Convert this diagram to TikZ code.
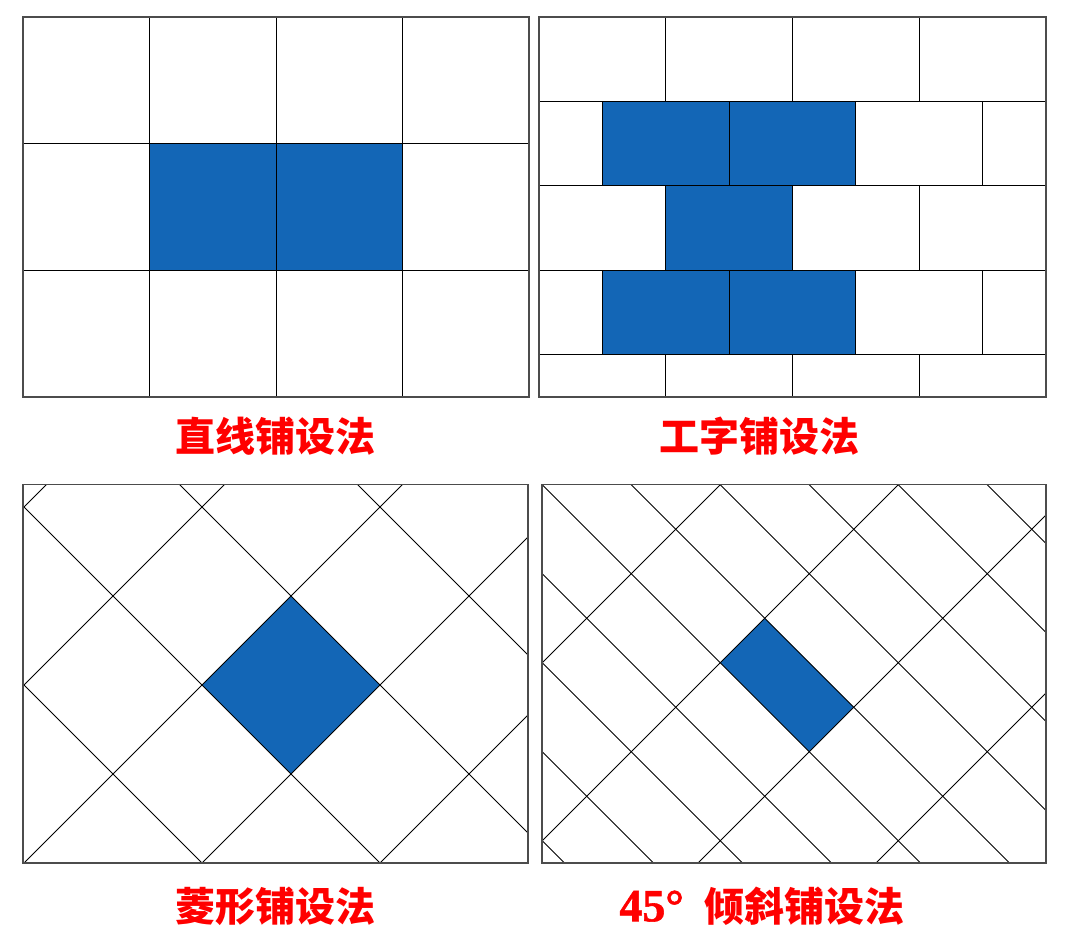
\documentclass[tikz,border=0pt]{standalone}
\usepackage{fontspec}
\newfontfamily\cjk{Noto Sans CJK SC}
\newfontfamily\serifb{Liberation Serif Bold}[FakeBold=1.2]
\definecolor{tileblue}{RGB}{19,102,182}
\begin{document}
\begin{tikzpicture}[x=1pt,y=-1pt,
  tile/.style={draw=black, line width=0.9pt},
  frame/.style={draw=black!70, line width=1.3pt},
  bluefill/.style={fill=tileblue},
  lbl/.style={text=red, font=\cjk\bfseries\fontsize{40}{40}\selectfont, inner sep=0pt}]
\useasboundingbox (0,0) rectangle (1080,950);
\fill[white] (0,0) rectangle (1080,950);

% ---------- Panel 1: straight ----------
\fill[bluefill] (149.5,143.7) rectangle (402.5,270.3);
\foreach \x in {149.5,276,402.5} \draw[tile] (\x,17) -- (\x,397);
\foreach \y in {143.7,270.3} \draw[tile] (23,\y) -- (529,\y);
\draw[frame] (23,17) rectangle (529,397);

% ---------- Panel 2: running bond ----------
\fill[bluefill] (602.4,101.3) rectangle (855.9,185.7);
\fill[bluefill] (665.75,185.7) rectangle (792.5,270);
\fill[bluefill] (602.4,270) rectangle (855.9,354.3);
\foreach \y in {101.3,185.7,270,354.3} \draw[tile] (539,\y) -- (1046,\y);
\foreach \x in {665.75,792.5,919.25} {
  \draw[tile] (\x,17) -- (\x,101.3);
  \draw[tile] (\x,185.7) -- (\x,270);
  \draw[tile] (\x,354.3) -- (\x,397);
}
\foreach \x in {602.4,729.1,855.9,982.6} {
  \draw[tile] (\x,101.3) -- (\x,185.7);
  \draw[tile] (\x,270) -- (\x,354.3);
}
\draw[frame] (539,17) rectangle (1046,397);

% ---------- Panel 3: diamond ----------
\begin{scope}
\clip (23,484.5) rectangle (528,863);
\fill[bluefill] (291,596) -- (380,685) -- (291,774) -- (202,685) -- cycle;
\foreach \u in {531,709,887,1065,1243} \draw[tile] (\u-900,900) -- (\u-450,450);
\foreach \v in {-661,-483,-305,-127} \draw[tile] (450+\v,450) -- (900+\v,900);
\end{scope}
\draw[frame] (23,484.5) rectangle (528,863);

% ---------- Panel 4: 45 degree ----------
\begin{scope}
\clip (542,484.5) rectangle (1046,863);
\fill[bluefill] (720.25,662.75) -- (764.75,618.25) -- (853.75,707.25) -- (809.25,751.75) -- cycle;
\foreach \u in {1205,1383,1561,1739} \draw[tile] (\u-900,900) -- (\u-450,450);
\foreach \v in {-298.5,-209.5,-120.5,-31.5,57.5,146.5,235.5,324.5,413.5,502.5} \draw[tile] (450+\v,450) -- (900+\v,900);
\end{scope}
\draw[frame] (542,484.5) rectangle (1046,863);

% ---------- Labels ----------
\node[lbl] (l1) at (275,436) {直线铺设法};
\node[lbl] (l2) at (759,436) {工字铺设法};
\node[lbl] (l3) at (275.5,906) {菱形铺设法};
\node[lbl, anchor=east] (l4) at (905,906) {{\serifb\fontsize{46}{46}\selectfont 45°}\hspace{21pt}倾斜铺设法};
\end{tikzpicture}
\end{document}
